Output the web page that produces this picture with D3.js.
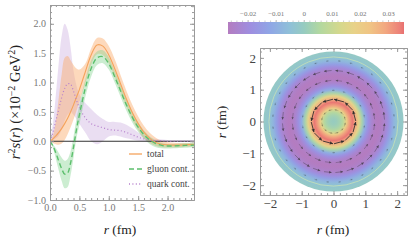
<!DOCTYPE html>
<html>
<head>
<meta charset="utf-8">
<script src="https://cdn.jsdelivr.net/npm/d3@7"></script>
<style>
  body { margin: 0; background: #fff; }
  text { font-family: "Liberation Serif", "DejaVu Serif", serif; }
</style>
</head>
<body>
<svg id="chart" width="415" height="242"></svg>
<script>
// left panel data: r^2 s(r) in 1e-2 GeV^2
var rGrid    = [0,0.05,0.1,0.15,0.2,0.25,0.3,0.35,0.4,0.45,0.5,0.6,0.7,0.8,0.9,1.0,1.1,1.2,1.3,1.4,1.5,1.6,1.7,1.8,1.9,2.0,2.1,2.2,2.3,2.45]
var total    = [0,0.04,0.09,0.15,0.22,0.3,0.39,0.5,0.62,0.75,0.88,1.18,1.47,1.64,1.62,1.47,1.24,0.98,0.72,0.49,0.3,0.15,0.05,-0.02,-0.05,-0.06,-0.065,-0.065,-0.06,-0.055]
var totalHi  = [0,0.1,0.35,0.75,1.15,1.42,1.45,1.38,1.3,1.24,1.22,1.32,1.58,1.76,1.75,1.62,1.4,1.13,0.86,0.62,0.42,0.26,0.14,0.06,0.01,-0.015,-0.025,-0.03,-0.03,-0.025]
var totalLo  = [0,-0.03,-0.05,-0.06,-0.04,0.02,0.12,0.24,0.37,0.52,0.67,0.98,1.3,1.48,1.47,1.33,1.1,0.84,0.59,0.37,0.19,0.05,-0.03,-0.08,-0.1,-0.105,-0.105,-0.1,-0.095,-0.09]
var gluon    = [0,-0.08,-0.2,-0.34,-0.47,-0.56,-0.54,-0.37,-0.1,0.2,0.45,0.9,1.24,1.42,1.44,1.32,1.1,0.86,0.62,0.41,0.24,0.11,0.02,-0.04,-0.07,-0.08,-0.08,-0.075,-0.07,-0.065]
var gluonHi  = [0,-0.05,-0.12,-0.2,-0.28,-0.33,-0.3,-0.17,0.08,0.38,0.62,1.05,1.38,1.53,1.55,1.43,1.2,0.96,0.72,0.5,0.32,0.18,0.08,0.01,-0.03,-0.045,-0.045,-0.04,-0.035,-0.03]
var gluonLo  = [0,-0.12,-0.3,-0.5,-0.68,-0.8,-0.78,-0.58,-0.28,0.05,0.28,0.75,1.1,1.3,1.33,1.22,1.0,0.76,0.52,0.32,0.16,0.04,-0.05,-0.1,-0.12,-0.125,-0.12,-0.115,-0.11,-0.1]
var quark    = [0,0.15,0.35,0.55,0.75,0.9,0.98,0.97,0.85,0.7,0.57,0.4,0.3,0.26,0.23,0.2,0.19,0.18,0.15,0.11,0.07,0.04,0.02,0.01,0.01,0,0,0,0,0]
var quarkHi  = [0,0.3,0.8,1.35,1.8,2.0,1.9,1.6,1.2,0.95,0.8,0.65,0.55,0.45,0.38,0.33,0.33,0.32,0.28,0.22,0.15,0.1,0.06,0.04,0.03,0.02,0.02,0.02,0.02,0.02]
var quarkLo  = [0,0.02,0.05,0.1,0.2,0.35,0.45,0.5,0.45,0.38,0.3,0.15,0,-0.05,0,0.08,0.1,0.08,0.05,0.03,0.01,0,-0.01,-0.01,-0.01,-0.01,-0.01,-0.01,-0.01,-0.01]
var legendLabels = ["total", "gluon cont.", "quark cont."]
var xTicksL = [0, 0.5, 1, 1.5, 2]
var yTicksL = [-1, -0.5, 0, 0.5, 1, 1.5, 2]

// right panel data: radial profile shown as colour, and ring arrows
var diskR = [0,0.1,0.2,0.3,0.4,0.5,0.6,0.7,0.8,0.9,1.0,1.1,1.2,1.3,1.4,1.5,1.6,1.7,1.8,1.9,2.0,2.1,2.2]
var diskV = [0,0.001,0.003,0.007,0.018,0.03,0.035,0.028,0.017,0.003,-0.01,-0.018,-0.023,-0.026,-0.027,-0.026,-0.024,-0.02,-0.014,-0.008,-0.004,-0.002,-0.001]
var ringR   = [0.37, 0.68, 0.98, 1.29, 1.6, 1.91]
var ringN   = [12, 12, 18, 24, 28, 32]
var ringLen = [0.12, 0.33, 0.09, 0.2, 0.24, 0.09]
var cbTicks = [-0.02, -0.01, 0, 0.01, 0.02, 0.03]
var xyTicksR = [-2, -1, 0, 1, 2]

var cbVals = [-0.027,-0.019,-0.012,-0.005,0,0.0057,0.013,0.018,0.0236,0.029,0.0343,0.0357]
var cbCols = ["#b47cc0","#9e8ee0","#8fa6e6","#8fc0d8","#96cbc0","#b2d8a0","#d5d88c","#e8d288","#f0c484","#f2a880","#ec8078","#e87070"]

var svg = d3.select("#chart")
var defs = svg.append("defs")

var frameCol = "#9a9a9a"

function frameAxes(g, x, y, xMaj, xMin, yMaj, yMin, fmtX, fmtY, fs, col) {
  var x0 = x.range()[0], x1 = x.range()[1], y0 = y.range()[0], y1 = y.range()[1]
  var sides = [
    [d3.axisBottom(x), "translate(0," + y0 + ")", xMaj, xMin, fmtX],
    [d3.axisTop(x), "translate(0," + y1 + ")", xMaj, xMin, null],
    [d3.axisLeft(y), "translate(" + x0 + ",0)", yMaj, yMin, fmtY],
    [d3.axisRight(y), "translate(" + x1 + ",0)", yMaj, yMin, null]
  ]
  sides.forEach(function (s) {
    var a = g.append("g").attr("transform", s[1])
      .call(s[0].tickValues(s[2]).tickSize(-4).tickPadding(4).tickFormat(s[4] || ""))
    a.select(".domain").attr("stroke", frameCol)
    a.selectAll(".tick line").attr("stroke", frameCol)
    a.selectAll("text").attr("font-size", fs).attr("fill", col).attr("font-family", "Liberation Serif")
    var m = g.append("g").attr("transform", s[1])
      .call(s[0].tickValues(s[3]).tickSize(-2).tickFormat(""))
    m.select(".domain").remove()
    m.selectAll(".tick line").attr("stroke", frameCol)
  })
}

// ---------- left panel ----------
var xL = d3.scaleLinear().domain([0, 2.45]).range([50, 194])
var yL = d3.scaleLinear().domain([-1, 2.32]).range([200, 5])

defs.append("clipPath").attr("id", "clipL")
  .append("rect").attr("x", 50).attr("y", 5).attr("width", 144).attr("height", 195)

var gL = svg.append("g")
var plotL = gL.append("g").attr("clip-path", "url(#clipL)")

function band(lo, hi) {
  return d3.area()
    .x(function (d, i) { return xL(rGrid[i]) })
    .y0(function (d, i) { return yL(lo[i]) })
    .y1(function (d, i) { return yL(hi[i]) })
    .curve(d3.curveCatmullRom)(rGrid)
}
function line(v) {
  return d3.line()
    .x(function (d, i) { return xL(rGrid[i]) })
    .y(function (d, i) { return yL(v[i]) })
    .curve(d3.curveCatmullRom)(rGrid)
}

plotL.append("path").attr("d", band(quarkLo, quarkHi)).attr("fill", "#c9a8dc").attr("fill-opacity", 0.38)
plotL.append("path").attr("d", band(totalLo, totalHi)).attr("fill", "#fbaa6a").attr("fill-opacity", 0.45)
plotL.append("path").attr("d", band(gluonLo, gluonHi)).attr("fill", "#86d492").attr("fill-opacity", 0.42)

plotL.append("line").attr("x1", 50).attr("x2", 194).attr("y1", yL(0)).attr("y2", yL(0))
  .attr("stroke", "#333").attr("stroke-width", 1)

var styles = [
  { v: total, col: "#f5a35c", w: 1.1, dash: null },
  { v: gluon, col: "#5cbf6c", w: 1.4, dash: "5,3" },
  { v: quark, col: "#b57fcc", w: 1.2, dash: "1,2.4" }
]
styles.forEach(function (s) {
  plotL.append("path").attr("d", line(s.v)).attr("fill", "none")
    .attr("stroke", s.col).attr("stroke-width", s.w).attr("stroke-dasharray", s.dash)
})

// legend
var legY = [154, 169, 184]
legendLabels.forEach(function (t, i) {
  gL.append("line").attr("x1", 129).attr("x2", 142).attr("y1", legY[i]).attr("y2", legY[i])
    .attr("stroke", styles[i].col).attr("stroke-width", styles[i].w + 0.2)
    .attr("stroke-dasharray", styles[i].dash)
  gL.append("text").attr("x", 147).attr("y", legY[i] + 3).attr("font-size", 9.5)
    .attr("fill", "#444").text(t)
})

frameAxes(gL, xL, yL, xTicksL, d3.range(0, 2.45, 0.1), yTicksL, d3.range(-1, 2.31, 0.1),
  d3.format(".1f"), d3.format(".1f"), 10, "#777")

// axis titles
var yt = gL.append("text").attr("transform", "translate(20,102) rotate(-90)")
  .attr("text-anchor", "middle").attr("font-size", 14.5).attr("fill", "#222")
yt.append("tspan").attr("font-style", "italic").text("r")
yt.append("tspan").attr("font-size", 10).attr("dy", -5).text("2")
yt.append("tspan").attr("dy", 5).attr("font-style", "italic").text("s")
yt.append("tspan").text("(")
yt.append("tspan").attr("font-style", "italic").text("r")
yt.append("tspan").text(") (\u00d710")
yt.append("tspan").attr("font-size", 10).attr("dy", -5).text("\u22122")
yt.append("tspan").attr("dy", 5).text(" GeV")
yt.append("tspan").attr("font-size", 10).attr("dy", -5).text("2")
yt.append("tspan").attr("dy", 5).text(")")

var xt = gL.append("text").attr("x", 120).attr("y", 234).attr("text-anchor", "middle")
  .attr("font-size", 13.5).attr("fill", "#222")
xt.append("tspan").attr("font-style", "italic").text("r")
xt.append("tspan").text(" (fm)")

// ---------- right panel ----------
var xR = d3.scaleLinear().domain([-2.31, 2.31]).range([260, 407])
var yR = d3.scaleLinear().domain([-2.31, 2.31]).range([195, 48])
var color = d3.scaleLinear().domain(cbVals).range(cbCols).clamp(true)

var rMax = diskR[diskR.length - 1]
var grad = defs.append("radialGradient").attr("id", "diskGrad")
  .attr("cx", "50%").attr("cy", "50%").attr("r", "50%")
grad.selectAll("stop").data(diskR).enter().append("stop")
  .attr("offset", function (d) { return d / rMax })
  .attr("stop-color", function (d, i) { return color(diskV[i]) })

var gR = svg.append("g")
gR.append("circle").attr("cx", xR(0)).attr("cy", yR(0)).attr("r", xR(rMax) - xR(0))
  .attr("fill", "url(#diskGrad)")
gR.append("circle").attr("cx", xR(0)).attr("cy", yR(0)).attr("r", xR(2.03) - xR(0))
  .attr("fill", "none").attr("stroke", "#cfe6b0").attr("stroke-width", 1).attr("stroke-opacity", 0.7)

// arrows on rings (counter-clockwise tangents)
var arrows = []
ringR.forEach(function (r, k) {
  for (var j = 0; j < ringN[k]; j++) {
    arrows.push({ r: r, th: 2 * Math.PI * (j + 0.5) / ringN[k], len: ringLen[k] })
  }
})
var maxLen = d3.max(ringLen)
gR.append("g").selectAll("g").data(arrows).enter().append("g")
  .each(function (d) {
    var px = xR(d.r * Math.cos(d.th)), py = yR(d.r * Math.sin(d.th))
    var L = (xR(d.len) - xR(0))
    var ux = -Math.sin(d.th), uy = -Math.cos(d.th)   // screen direction of ccw tangent
    var x1 = px - ux * L / 2, y1 = py - uy * L / 2, x2 = px + ux * L / 2, y2 = py + uy * L / 2
    var f = d.len / maxLen
    var op = 0.25 + 0.6 * f * f
    var h = Math.min(3.2, 1.0 + L * 0.2), w = h * 0.55
    var g = d3.select(this)
    g.append("line").attr("x1", x1).attr("y1", y1).attr("x2", x2).attr("y2", y2)
      .attr("stroke", "#2a2a2a").attr("stroke-opacity", op).attr("stroke-width", f > 0.9 ? 1 : 0.6)
    var bx = x2 - ux * h, by = y2 - uy * h
    g.append("path")
      .attr("d", "M" + x2 + "," + y2 + "L" + (bx - uy * w) + "," + (by + ux * w) + "L" + (bx + uy * w) + "," + (by - ux * w) + "Z")
      .attr("fill", "#2a2a2a").attr("fill-opacity", op)
  })

frameAxes(gR, xR, yR, xyTicksR, d3.range(-2.2, 2.3, 0.2), xyTicksR, d3.range(-2.2, 2.3, 0.2),
  d3.format("d"), d3.format("d"), 13, "#444")

var xtR = gR.append("text").attr("x", 333).attr("y", 234).attr("text-anchor", "middle")
  .attr("font-size", 13.5).attr("fill", "#222")
xtR.append("tspan").attr("font-style", "italic").text("r")
xtR.append("tspan").text(" (fm)")
var ytR = gR.append("text").attr("transform", "translate(226,122) rotate(-90)")
  .attr("text-anchor", "middle").attr("font-size", 13.5).attr("fill", "#222")
ytR.append("tspan").attr("font-style", "italic").text("r")
ytR.append("tspan").text(" (fm)")

// ---------- colour bar ----------
var cbX = d3.scaleLinear().domain([cbVals[0], cbVals[cbVals.length - 1]]).range([228, 404])
var lg = defs.append("linearGradient").attr("id", "cbGrad")
lg.selectAll("stop").data(cbVals).enter().append("stop")
  .attr("offset", function (d) { return (cbX(d) - 228) / 176 })
  .attr("stop-color", function (d, i) { return cbCols[i] })
svg.append("rect").attr("x", 228).attr("y", 22).attr("width", 176).attr("height", 12)
  .attr("fill", "url(#cbGrad)")
var cbAxis = svg.append("g").attr("transform", "translate(0,22)")
  .call(d3.axisTop(cbX).tickValues(cbTicks).tickSize(2).tickPadding(4)
    .tickFormat(function (d) { return d === 0 ? "0" : d3.format(".2f")(d) }))
cbAxis.select(".domain").remove()
cbAxis.selectAll(".tick line").attr("stroke", "#bbb")
cbAxis.selectAll("text").attr("font-size", 7).attr("fill", "#777").attr("font-family", "Liberation Serif")
var cbMin = svg.append("g").attr("transform", "translate(0,22)")
  .call(d3.axisTop(cbX).tickValues(d3.range(-0.026, 0.0356, 0.002)).tickSize(1.5).tickFormat(""))
cbMin.select(".domain").remove()
cbMin.selectAll(".tick line").attr("stroke", "#ccc")
</script>
</body>
</html>
